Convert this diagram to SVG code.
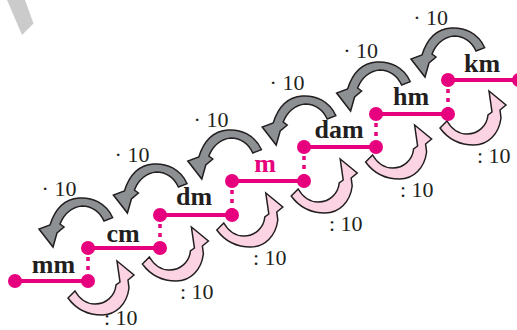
<svg xmlns="http://www.w3.org/2000/svg" width="517" height="330" viewBox="0 0 517 330">
<style>
.seg{stroke:#e6007e;stroke-width:4;fill:none}
.dash{stroke:#e6007e;stroke-width:3.5;stroke-dasharray:4 5;fill:none}
.dot{fill:#e6007e}
.unit{font-family:"Liberation Serif","Times New Roman",serif;font-weight:bold;font-size:26px;fill:#231f20;text-anchor:middle}
.op{font-family:"Liberation Serif","Times New Roman",serif;font-size:22px;fill:#231f20}
.ga{fill:#8d9093;stroke:#231f20;stroke-width:1.5;stroke-linejoin:miter}
.pa{fill:#fbd3e3;stroke:#231f20;stroke-width:1.5;stroke-linejoin:miter}
</style>
<defs>
<path id="gray" d="M112.7,217.7 C106,203 92,197 79,198 C65,199 55,209 50,225 L39,229 L53,247 L57,233 L64,227 L60,224 C64,214 72,207 82,206 C92,206 100,212 104,221 Z"/>
<path id="pink" d="M68,298 C76,309 88,315 102,315 C116,315 127,304 129,288 L128,280 L134,275 L117,261 L120,282 L116,285 C115,296 106,304 95,304 C86,304 79,298 75,291 Z"/>
</defs>
<polygon points="7,0 25,0 33.5,23.5 22,35" fill="#cbcbcb"/>
<g id="connectors">
<line class="dash" x1="88" y1="248" x2="88" y2="281"/>
<line class="dash" x1="160" y1="215" x2="160" y2="248"/>
<line class="dash" x1="232" y1="181" x2="232" y2="215"/>
<line class="dash" x1="304" y1="147" x2="304" y2="181"/>
<line class="dash" x1="376" y1="114" x2="376" y2="147"/>
<line class="dash" x1="448" y1="80" x2="448" y2="114"/>
<g id="multiply-arrows">
<use href="#gray" class="ga"/>
<use href="#gray" class="ga" transform="translate(74.4,-34)"/>
<use href="#gray" class="ga" transform="translate(148.8,-68)"/>
<use href="#gray" class="ga" transform="translate(223.2,-102)"/>
<use href="#gray" class="ga" transform="translate(297.6,-136)"/>
<use href="#gray" class="ga" transform="translate(372,-170)"/>
</g>
<g id="divide-arrows">
<use href="#pink" class="pa"/>
<use href="#pink" class="pa" transform="translate(74.4,-34)"/>
<use href="#pink" class="pa" transform="translate(148.8,-68)"/>
<use href="#pink" class="pa" transform="translate(223.2,-102)"/>
<use href="#pink" class="pa" transform="translate(297.6,-136)"/>
<use href="#pink" class="pa" transform="translate(372,-170)"/>
</g>
<g id="labels">
<text class="op" x="41.6" y="196">· 10</text>
<text class="op" x="114.6" y="162">· 10</text>
<text class="op" x="193.6" y="127">· 10</text>
<text class="op" x="269.6" y="90">· 10</text>
<text class="op" x="343.3" y="58">· 10</text>
<text class="op" x="413.3" y="25">· 10</text>
<text class="op" x="104" y="325">: 10</text>
<text class="op" x="180" y="299">: 10</text>
<text class="op" x="253" y="265">: 10</text>
<text class="op" x="329" y="231">: 10</text>
<text class="op" x="400" y="197">: 10</text>
<text class="op" x="477" y="163">: 10</text>
</g>
</g>
<g id="mm"><line class="seg" x1="15" y1="281" x2="88" y2="281"/><circle class="dot" cx="15" cy="281" r="7"/><circle class="dot" cx="88" cy="281" r="7"/><text class="unit" x="53.5" y="273">mm</text></g>
<g id="cm"><line class="seg" x1="88" y1="248" x2="160" y2="248"/><circle class="dot" cx="88" cy="248" r="7"/><circle class="dot" cx="160" cy="248" r="7"/><text class="unit" x="123" y="242">cm</text></g>
<g id="dm"><line class="seg" x1="160" y1="215" x2="232" y2="215"/><circle class="dot" cx="160" cy="215" r="7"/><circle class="dot" cx="232" cy="215" r="7"/><text class="unit" x="194" y="205">dm</text></g>
<g id="m"><line class="seg" x1="232" y1="181" x2="304" y2="181"/><circle class="dot" cx="232" cy="181" r="7"/><circle class="dot" cx="304" cy="181" r="7"/><text class="unit" x="265" y="172" style="fill:#e6007e">m</text></g>
<g id="dam"><line class="seg" x1="304" y1="147" x2="376" y2="147"/><circle class="dot" cx="304" cy="147" r="7"/><circle class="dot" cx="376" cy="147" r="7"/><text class="unit" x="339" y="138">dam</text></g>
<g id="hm"><line class="seg" x1="376" y1="114" x2="448" y2="114"/><circle class="dot" cx="376" cy="114" r="7"/><circle class="dot" cx="448" cy="114" r="7"/><text class="unit" x="411" y="105">hm</text></g>
<g id="km"><line class="seg" x1="448" y1="80" x2="519" y2="80"/><circle class="dot" cx="448" cy="80" r="7"/><circle class="dot" cx="519" cy="80" r="7"/><text class="unit" x="482" y="72">km</text></g>
</svg>
